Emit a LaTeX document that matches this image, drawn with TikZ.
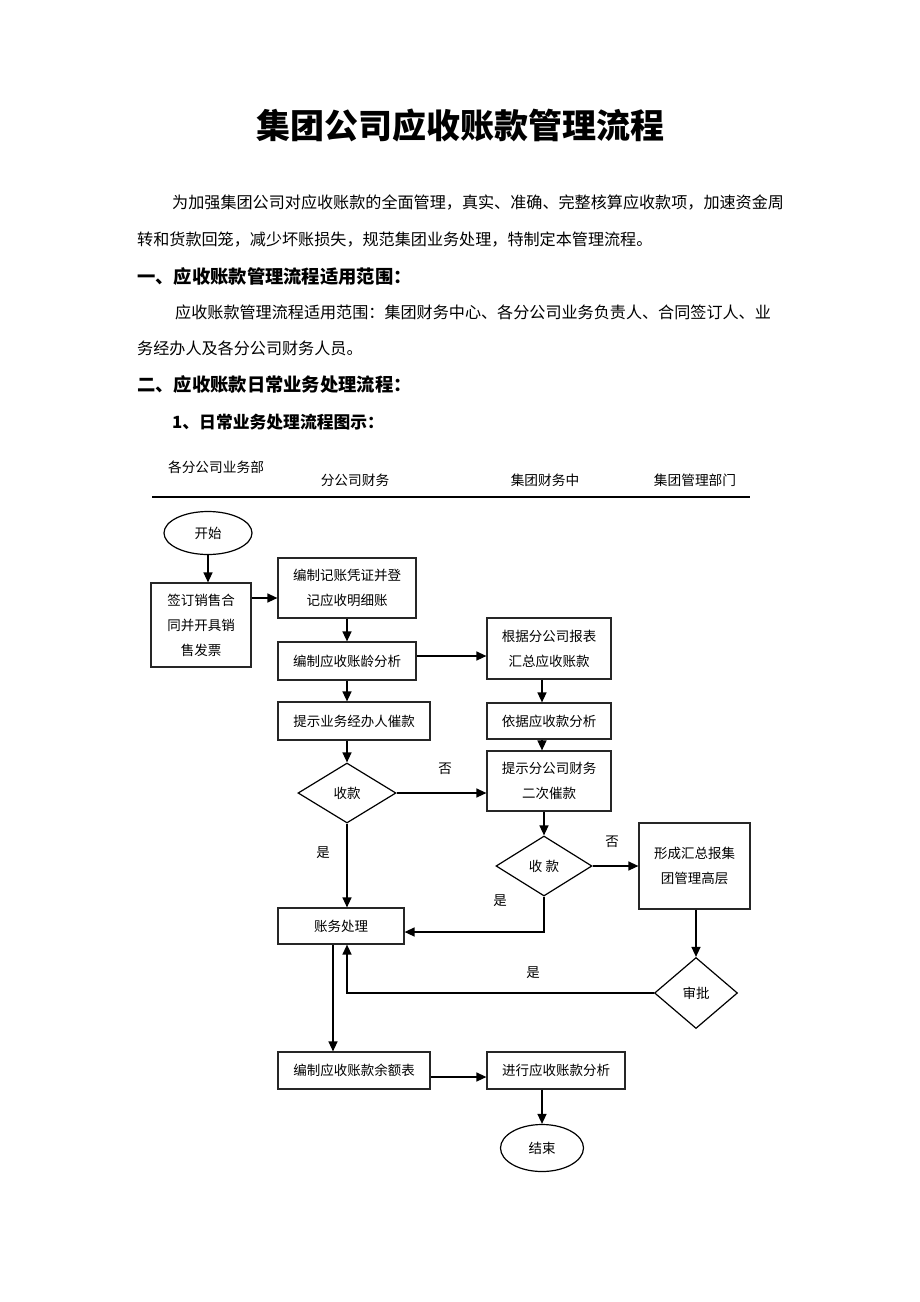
\documentclass[tikz,border=0pt]{standalone}
\usepackage{fontspec}
\setmainfont{Noto Sans CJK SC}
\usetikzlibrary{shapes.geometric,arrows.meta}
\begin{document}
\begin{tikzpicture}[x=1pt,y=-1pt,
  body/.style={anchor=west,inner sep=0pt,font=\fontsize{16.1}{20}\selectfont},
  head/.style={anchor=west,inner sep=0pt,font=\fontsize{18.3}{22}\selectfont\bfseries},
  colhead/.style={inner sep=0pt,font=\fontsize{13.7}{16}\selectfont},
  box/.style={draw=black!85,line width=1.2pt,rectangle,inner sep=0pt,align=center,font=\fontsize{13.5}{25}\selectfont},
  dia/.style={draw=black,line width=1.2pt,diamond,inner sep=0pt,font=\fontsize{13.5}{16}\selectfont},
  oval/.style={draw=black,line width=1.2pt,ellipse,inner sep=0pt,font=\fontsize{13.5}{16}\selectfont},
  lbl/.style={inner sep=0pt,font=\fontsize{13.5}{16}\selectfont},
  arr/.style={line width=1.4pt,-{Triangle[length=10pt,width=9pt]}},
  ln/.style={line width=1.3pt}]
\useasboundingbox[fill=white] (0,0) rectangle (920,1302);

% title and text
\node[inner sep=0pt,font=\fontsize{34}{40}\selectfont\bfseries] (title) at (460,126) {集团公司应收账款管理流程};
\node[body] (p1a) at (172,203) {为加强集团公司对应收账款的全面管理，真实、准确、完整核算应收款项，加速资金周};
\node[body] (p1b) at (137,240) {转和货款回笼，减少坏账损失，规范集团业务处理，特制定本管理流程。};
\node[head] (h1) at (137,277) {一、应收账款管理流程适用范围：};
\node[body] (p2a) at (175,312) {应收账款管理流程适用范围：集团财务中心、各分公司业务负责人、合同签订人、业};
\node[body] (p2b) at (137,348) {务经办人及各分公司财务人员。};
\node[head] (h2) at (137,385) {二、应收账款日常业务处理流程：};
\node[head,font=\fontsize{16.8}{20}\selectfont\bfseries] (h3) at (172,422) {1、日常业务处理流程图示：};

% column headers
\node[colhead] (c1) at (216,467) {各分公司业务部};
\node[colhead] (c2) at (355,480) {分公司财务};
\node[colhead] (c3) at (545,480) {集团财务中};
\node[colhead] (c4) at (695,480) {集团管理部门};
\coordinate (rl) at (152,497);
\coordinate (rr) at (750,497);
\draw[line width=1.6pt] (rl) -- (rr);

% nodes
\node[oval,minimum width=88pt,minimum height=43pt] (start) at (208,533) {开始};
\node[box,minimum width=100pt,minimum height=84pt] (sign) at (201,625) {签订销售合\\同并开具销\\售发票};
\node[box,minimum width=138pt,minimum height=60pt] (rec) at (347,588) {编制记账凭证并登\\记应收明细账};
\node[box,minimum width=138pt,minimum height=38pt] (age) at (347,661) {编制应收账龄分析};
\node[box,minimum width=152pt,minimum height=38pt] (remind) at (354,721) {提示业务经办人催款};
\node[dia,minimum width=98pt,minimum height=60pt] (rcv1) at (347,793) {收款};
\node[box,minimum width=126pt,minimum height=36pt] (acct) at (341,926) {账务处理};
\node[box,minimum width=152pt,minimum height=37pt] (bal) at (354,1070.5) {编制应收账款余额表};
\node[box,minimum width=138pt,minimum height=37pt] (ana) at (556,1070.5) {进行应收账款分析};
\node[oval,minimum width=83pt,minimum height=47pt] (endn) at (542,1148) {结束};
\node[box,minimum width=124pt,minimum height=61pt] (sum) at (549,648.5) {根据分公司报表\\汇总应收账款};
\node[box,minimum width=124pt,minimum height=36pt] (basis) at (549,721) {依据应收款分析};
\node[box,minimum width=124pt,minimum height=60pt] (second) at (549,781) {提示分公司财务\\二次催款};
\node[dia,minimum width=96pt,minimum height=60pt] (rcv2) at (544,866) {收\ 款};
\node[box,minimum width=111pt,minimum height=86pt] (report) at (694.5,866) {形成汇总报集\\团管理高层};
\node[dia,minimum width=83pt,minimum height=71pt] (appr) at (696,993) {审批};

% connectors
\draw[arr] (start.south) -- (start.south |- sign.north);
\draw[arr] (sign.east |- 0,598) -- (rec.west |- 0,598);
\draw[arr] (rec.south) -- (age.north);
\draw[arr] (age.east |- 0,656) -- (sum.west |- 0,656);
\draw[arr] (age.south) -- (age.south |- remind.north);
\draw[arr] (remind.south -| rcv1.north) -- (rcv1.north);
\draw[arr] (rcv1.east) -- (rcv1.east -| second.west);
\draw[arr] (rcv1.south) -- (rcv1.south |- acct.north);
\draw[arr] (sum.south -| 542,0) -- (basis.north -| 542,0);
\draw[arr] (basis.south -| 542,0) -- (second.north -| 542,0);
\draw[arr] (second.south -| rcv2.north) -- (rcv2.north);
\draw[arr] (rcv2.east) -- (rcv2.east -| report.west);
\draw[arr] (rcv2.south) |- (acct.east |- 0,932);
\draw[arr] (report.south -| appr.north) -- (appr.north);
\draw[arr] (appr.west) -| (acct.south -| 347,0);
\draw[arr] (acct.south -| 333,0) -- (bal.north -| 333,0);
\draw[arr] (bal.east |- 0,1077) -- (ana.west |- 0,1077);
\draw[arr] (ana.south -| endn.north) -- (endn.north);

% labels
\node[lbl] (l1) at (445,769) {否};
\node[lbl] (l2) at (323,853) {是};
\node[lbl] (l3) at (612,842) {否};
\node[lbl] (l4) at (500,901) {是};
\node[lbl] (l5) at (533,973) {是};
\end{tikzpicture}
\end{document}
